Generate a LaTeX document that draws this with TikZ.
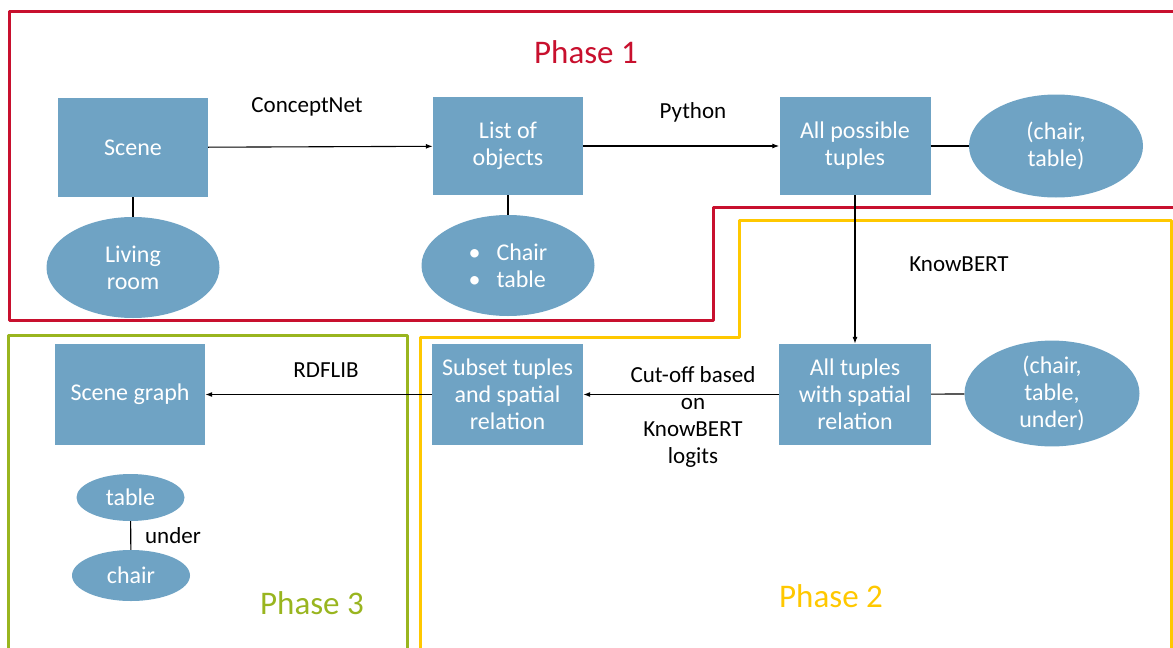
\documentclass[tikz,border=0pt]{standalone}
\usepackage{fontspec}
\setmainfont{Carlito}
\usetikzlibrary{arrows.meta,shapes.geometric}
\definecolor{boxblue}{HTML}{6FA3C4}
\definecolor{phasered}{HTML}{C8102E}
\definecolor{phaseyellow}{HTML}{FFC800}
\definecolor{phasegreen}{HTML}{99B51F}
\begin{document}
\begin{tikzpicture}[x=1pt,y=-1pt,
  stepbox/.style={rectangle, fill=boxblue, text=white, align=center,
    font=\fontsize{24}{27}\selectfont, inner sep=0pt},
  blob/.style={ellipse, fill=boxblue, text=white, align=center,
    font=\fontsize{24}{27}\selectfont, inner sep=0pt},
  lbl/.style={font=\fontsize{23}{27}\selectfont, align=center, text=black},
  phase/.style={font=\fontsize{33}{38}\selectfont},
  flow/.style={-{Latex[length=7pt,width=5pt]}, line width=1.1pt},
  link/.style={line width=1.1pt},
  border/.style={line width=3pt, line join=round}
]
\useasboundingbox (0,0) rectangle (1173,648);

% phase frames
\draw[border, phasered] (1180,11) -- (9,11) -- (9,320) -- (713,320) -- (713,207) -- (1180,207);
\draw[border, phaseyellow] (420,655) -- (420,337) -- (739,337) -- (739,220) -- (1171,220) -- (1171,655);
\draw[border, phasegreen] (8,655) -- (8,335) -- (407,335) -- (407,655);

% phase 1
\node[stepbox, minimum width=150, minimum height=99] (scene) at (133,147.5) {Scene};
\node[stepbox, minimum width=150, minimum height=98] (list) at (508,146) {List of\\objects};
\node[stepbox, minimum width=151, minimum height=98] (tuples) at (855,146) {All possible\\tuples};
\node[blob, minimum width=173, minimum height=101] (living) at (133,267.5) {Living\\room};
\node[blob, minimum width=173, minimum height=101, align=left] (objs) at (508,265.5)
  {\textbullet\hspace{16pt}Chair\\\textbullet\hspace{16pt}table};
\node[blob, minimum width=174, minimum height=103] (pair) at (1056,146) {(chair,\\table)};

% phase 2
\node[stepbox, minimum width=152, minimum height=101] (alltup) at (855,394.5) {All tuples\\with spatial\\relation};
\node[blob, minimum width=175, minimum height=103] (triple) at (1052,393.5) {(chair,\\table,\\under)};
\node[stepbox, minimum width=151, minimum height=101] (subset) at (507.5,394.5) {Subset tuples\\and spatial\\relation};

% phase 3
\node[stepbox, minimum width=150, minimum height=101] (sg) at (130,394.5) {Scene graph};
\node[blob, minimum width=108, minimum height=47] (tab) at (130.5,497.5) {table};
\node[blob, minimum width=118, minimum height=51] (chr) at (131,575.5) {chair};

% connectors
\draw[flow] (scene) -- (list);
\draw[flow] (list) -- (tuples);
\draw[flow] (tuples) -- (alltup);
\draw[flow] (alltup) -- (subset);
\draw[flow] (subset) -- (sg);
\draw[link] (scene) -- (living);
\draw[link] (list) -- (objs);
\draw[link] (tuples) -- (pair);
\draw[link] (alltup) -- (triple);
\draw[link] (tab) -- (chr);

% edge labels
\node[lbl] (lconcept) at (307,107) {ConceptNet};
\node[lbl] (lpython) at (693,112) {Python};
\node[lbl] (lknow) at (959,264) {KnowBERT};
\node[lbl] (lcut) at (693,417) {Cut-off based\\on\\KnowBERT\\logits};
\node[lbl] (lrdf) at (326,370) {RDFLIB};
\node[lbl] (lunder) at (173,536) {under};

% phase titles
\node[phase, text=phasered] (p1) at (586,52) {Phase 1};
\node[phase, text=phaseyellow] (p2) at (831,596) {Phase 2};
\node[phase, text=phasegreen] (p3) at (312,603) {Phase 3};
\end{tikzpicture}
\end{document}
